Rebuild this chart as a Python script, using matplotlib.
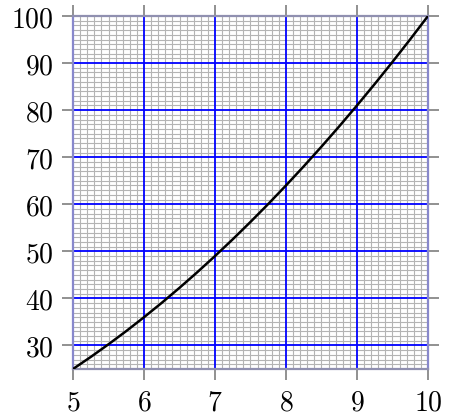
import matplotlib
matplotlib.use('Agg')
from matplotlib import pyplot as plt
from matplotlib.ticker import FixedLocator, FuncFormatter

# values
xs = [5.0, 5.25, 5.5, 5.75, 6.0, 6.25, 6.5, 6.75, 7.0, 7.25, 7.5,
      7.75, 8.0, 8.25, 8.5, 8.75, 9.0, 9.25, 9.5, 9.75, 10.0]
ys = [25.0, 27.56, 30.25, 33.06, 36.0, 39.06, 42.25, 45.56, 49.0, 52.56, 56.25,
      60.06, 64.0, 68.06, 72.25, 76.56, 81.0, 85.56, 90.25, 95.06, 100.0]
x_ticks = [5, 6, 7, 8, 9, 10]
y_ticks = [30, 40, 50, 60, 70, 80, 90, 100]

plt.rcParams['mathtext.fontset'] = 'cm'

fig = plt.figure(figsize=(4.49, 4.16), dpi=100)
ax = fig.add_axes([0.1626, 0.1130, 0.7906, 0.8485])

ax.set_xlim(5, 10)
ax.set_ylim(25, 100)
ax.set_xticks(x_ticks)
ax.set_yticks(y_ticks)

# fine gray grid (mm paper look)
minor_x = [5 + i / 10 for i in range(51) if i % 10 != 0]
minor_y = [25 + i for i in range(76) if (25 + i) % 10 != 0]
ax.xaxis.set_minor_locator(FixedLocator(minor_x))
ax.yaxis.set_minor_locator(FixedLocator(minor_y))
ax.grid(which='minor', color='#b4b4b4', linewidth=0.8)
ax.set_axisbelow(True)

# blue major grid on top of the gray one
for t in x_ticks:
    ax.axvline(t, color='#0000ff', linewidth=1.3, zorder=2)
for t in y_ticks:
    ax.axhline(t, color='#0000ff', linewidth=1.3, zorder=2)

ax.plot(xs, ys, color='black', linewidth=1.8, zorder=5)

fmt = FuncFormatter(lambda v, p: '$%d$' % v)
ax.xaxis.set_major_formatter(fmt)
ax.yaxis.set_major_formatter(fmt)
ax.tick_params(which='major', direction='out', length=8, width=1.3,
               color='#888888', labelsize=20, top=True, right=True,
               pad=6)
ax.tick_params(which='minor', length=0)

for side in ['top', 'bottom']:
    ax.spines[side].set_color('#9090b0')
for side in ['left', 'right']:
    ax.spines[side].set_color('#8888cc')
for s in ax.spines.values():
    s.set_linewidth(1.6)
    s.set_zorder(3)

fig.savefig('out.png', dpi=100)
